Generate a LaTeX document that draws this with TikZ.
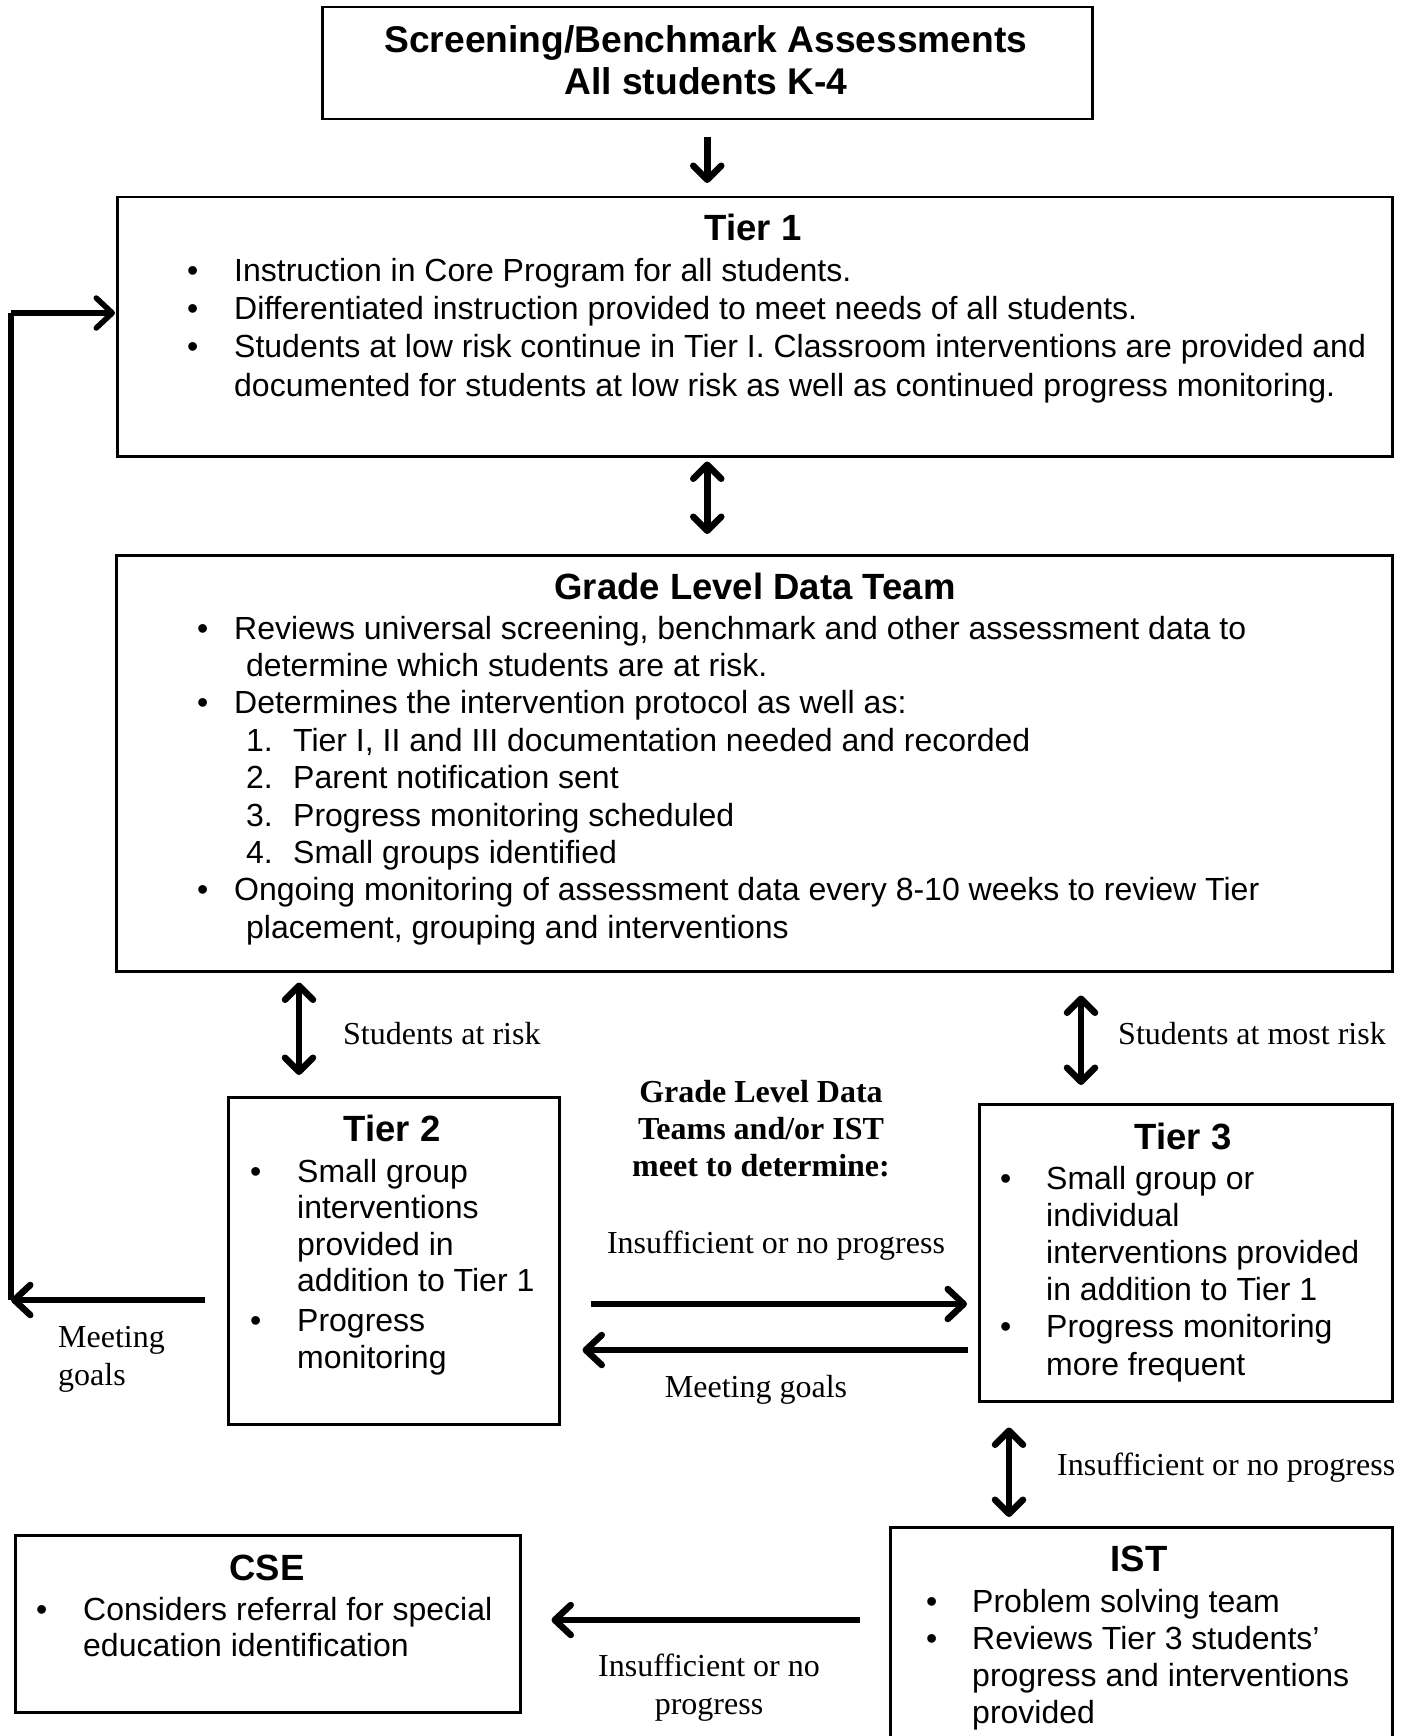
\documentclass[tikz,border=0pt]{standalone}
\usepackage{fontspec}
\setmainfont{Liberation Serif}
\setsansfont{Liberation Sans}
\usetikzlibrary{arrows.meta}
\newcommand{\bul}[1]{\makebox[#1][l]{\textbullet}}
\tikzset{
  vb/.tip={Straight Barb[length=14pt,width=28pt,round]},
  hb/.tip={Straight Barb[length=16pt,width=30pt,round]}
}
\begin{document}
\begin{tikzpicture}[x=1pt,y=-1pt,
  box/.style={draw, line width=2.5pt, inner sep=0pt, anchor=north west},
  ttl/.style={font=\sffamily\bfseries\fontsize{36.5}{#1}\selectfont, inner sep=0pt, anchor=base},
  ttl/.default=42,
  body/.style={font=\sffamily\fontsize{32}{#1}\selectfont, inner sep=0pt, anchor=base west},
  body/.default=37.3,
  lbl/.style={font=\rmfamily\fontsize{32}{#1}\selectfont, inner sep=0pt},
  lbl/.default=37.5,
  lblb/.style={font=\rmfamily\bfseries\fontsize{32}{#1}\selectfont, inner sep=0pt},
  lblb/.default=37,
  varr/.style={line width=6.5pt, arrows={vb-vb}},
  darr/.style={line width=6.5pt, arrows={-vb}},
  harr/.style={line width=6.5pt, arrows={-hb}}
]
\clip (0,0) rectangle (1416,1736);

% boxes
\node[box, minimum width=770pt, minimum height=112pt] (scr) at (321,6) {};
\node[box, minimum width=1275pt, minimum height=259pt] (tier1) at (116,196) {};
\node[box, minimum width=1276pt, minimum height=416pt] (gldt) at (115,554) {};
\node[box, minimum width=331pt, minimum height=327pt] (tier2) at (227,1096) {};
\node[box, minimum width=413pt, minimum height=297pt] (tier3) at (978,1103) {};
\node[box, minimum width=505pt, minimum height=177pt] (cse) at (14,1534) {};
\node[box, minimum width=502pt, minimum height=260pt] (ist) at (889,1526) {};

% box texts
\node[ttl, font=\sffamily\bfseries\fontsize{37.2}{42}\selectfont] (scrT) at (706,53) {\begin{tabular}[t]{@{}c@{}}Screening/Benchmark Assessments\\All students K-4\end{tabular}};

\node[ttl] (t1T) at (753,241) {Tier 1};
\node[body=38.4] (t1B) at (187,281) {\begin{tabular}[t]{@{}l@{}}%
\bul{47pt}Instruction in Core Program for all students.\\
\bul{47pt}Differentiated instruction provided to meet needs of all students.\\
\bul{47pt}Students at low risk continue in Tier I. Classroom interventions are provided and\\
\hspace*{47pt}documented for students at low risk as well as continued progress monitoring.\end{tabular}};

\node[ttl] (gT) at (755,599) {Grade Level Data Team};
\node[body=37.4] (gB) at (197,639) {\begin{tabular}[t]{@{}l@{}}%
\bul{37pt}Reviews universal screening, benchmark and other assessment data to\\
\hspace*{49pt}determine which students are at risk.\\
\bul{37pt}Determines the intervention protocol as well as:\\
\hspace*{49pt}\makebox[47pt][l]{1.}Tier I, II and III documentation needed and recorded\\
\hspace*{49pt}\makebox[47pt][l]{2.}Parent notification sent\\
\hspace*{49pt}\makebox[47pt][l]{3.}Progress monitoring scheduled\\
\hspace*{49pt}\makebox[47pt][l]{4.}Small groups identified\\
\bul{37pt}Ongoing monitoring of assessment data every 8-10 weeks to review Tier\\
\hspace*{49pt}placement, grouping and interventions\end{tabular}};

\node[ttl] (t2T) at (392,1141) {Tier 2};
\node[body=36.6] (t2B) at (250,1182) {\begin{tabular}[t]{@{}l@{}}%
\bul{47pt}Small group\\
\hspace*{47pt}interventions\\
\hspace*{47pt}provided in\\
\hspace*{47pt}addition to Tier 1\\[3pt]
\bul{47pt}Progress\\
\hspace*{47pt}monitoring\end{tabular}};

\node[ttl] (t3T) at (1183,1149) {Tier 3};
\node[body=37.2] (t3B) at (1000,1189) {\begin{tabular}[t]{@{}l@{}}%
\bul{46pt}Small group or\\
\hspace*{46pt}individual\\
\hspace*{46pt}interventions provided\\
\hspace*{46pt}in addition to Tier 1\\
\bul{46pt}Progress monitoring\\
\hspace*{46pt}more frequent\end{tabular}};

\node[ttl] (istT) at (1139,1571) {IST};
\node[body=37.3] (istB) at (926,1612) {\begin{tabular}[t]{@{}l@{}}%
\bul{46pt}Problem solving team\\
\bul{46pt}Reviews Tier 3 students’\\
\hspace*{46pt}progress and interventions\\
\hspace*{46pt}provided\end{tabular}};

\node[ttl] (cseT) at (267,1580) {CSE};
\node[body=36.5] (cseB) at (36,1620) {\begin{tabular}[t]{@{}l@{}}%
\bul{47pt}Considers referral for special\\
\hspace*{47pt}education identification\end{tabular}};

% labels
\node[lbl, anchor=base west] (lRisk) at (343,1044) {Students at risk};
\node[lbl, anchor=base west] (lMost) at (1118,1044) {Students at most risk};
\node[lblb, anchor=base] (lMid) at (761,1102) {\begin{tabular}[t]{@{}c@{}}Grade Level Data\\Teams and/or IST\\meet to determine:\end{tabular}};
\node[lbl, anchor=base] (lIns) at (776,1253) {Insufficient or no progress};
\node[lbl, anchor=base] (lMeet) at (756,1397) {Meeting goals};
\node[lbl=38, anchor=base west] (lMeetL) at (58,1347) {\begin{tabular}[t]{@{}l@{}}Meeting\\goals\end{tabular}};
\node[lbl, anchor=base west] (lIns2) at (1057,1475) {Insufficient or no progress};
\node[lbl=38, anchor=base] (lIns3) at (709,1676) {\begin{tabular}[t]{@{}c@{}}Insufficient or no\\progress\end{tabular}};

% helper coordinates
\coordinate (a2) at (299,0);
\coordinate (a3) at (1081,0);
\coordinate (a4) at (1009,0);
\coordinate (h1) at (0,1304);
\coordinate (h2) at (0,1350);
\coordinate (h3) at (0,1620);
\coordinate (fb1) at (11,1300);
\coordinate (fb2) at (11,313);

% connectors
\draw[darr, shorten <=17pt, shorten >=13pt] (scr.south) -- (scr.south |- tier1.north);
\draw[varr, shorten <=4pt, shorten >=20pt] (scr.south |- tier1.south) -- (scr.south |- gldt.north);
\draw[varr, shorten <=10pt, shorten >=21pt] (a2 |- gldt.south) -- (a2 |- tier2.north);
\draw[varr, shorten <=23pt, shorten >=18pt] (a3 |- gldt.south) -- (a3 |- tier3.north);
\draw[varr, shorten <=25pt, shorten >=9pt] (a4 |- tier3.south) -- (a4 |- ist.north);
\draw[harr, shorten <=30pt, shorten >=11pt] (tier2.east |- h1) -- (tier3.west |- h1);
\draw[harr, shorten <=10pt, shorten >=22pt] (tier3.west |- h2) -- (tier2.east |- h2);
\draw[harr, shorten <=29pt, shorten >=30pt] (ist.west |- h3) -- (cse.east |- h3);
\draw[harr, shorten <=22pt] (tier2.west |- fb1) -- (fb1);
\draw[line width=5.5pt] (fb1) -- (fb2);
\draw[harr, line width=5.5pt, shorten >=1pt] (fb2) -- (tier1.west |- fb2);
\end{tikzpicture}
\end{document}
